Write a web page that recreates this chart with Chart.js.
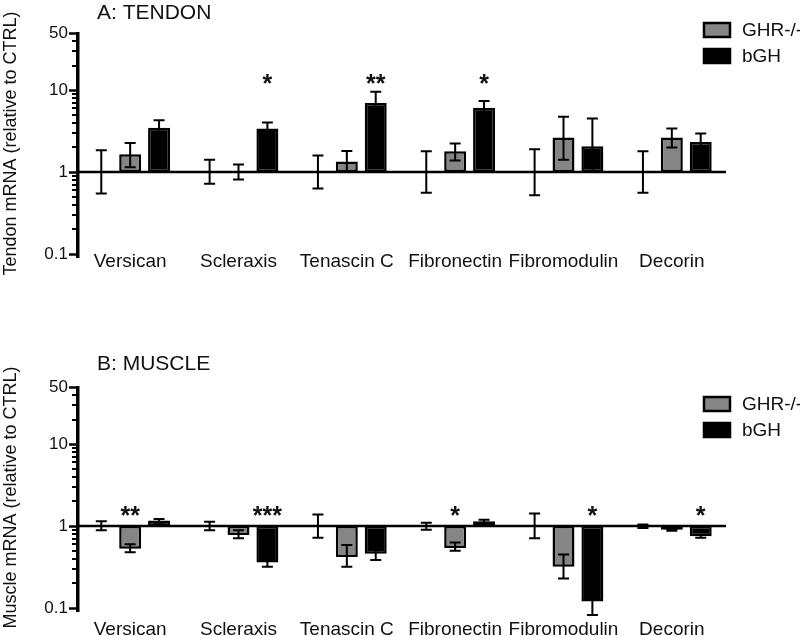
<!DOCTYPE html>
<html lang="en">
<head>
<meta charset="UTF-8">
<title>Tendon / Muscle mRNA</title>
<script src="https://cdn.jsdelivr.net/npm/chart.js"></script>
<style>
  body { margin: 0; background: #fff; }
  .painel { position: absolute; left: 0; width: 800px; }
</style>
</head>
<body>
<div class="painel" style="top:0;height:300px"><canvas id="chartA"></canvas></div>
<div class="painel" style="top:300px;height:336px"><canvas id="chartB"></canvas></div>

<script>
// ---- dados ----
const categorias = ['Versican', 'Scleraxis', 'Tenascin C', 'Fibronectin', 'Fibromodulin', 'Decorin'];
const yTicks = [0.1, 1, 10, 50];
const yMinorTicks = [0.2, 0.3, 0.4, 0.5, 0.6, 0.7, 0.8, 0.9, 2, 3, 4, 5, 6, 7, 8, 9, 20, 30, 40];

// A: tendon
const ctrlA    = [1, 1, 1, 1, 1, 1];
const ctrlLoA  = [0.55, 0.72, 0.63, 0.56, 0.52, 0.56];
const ctrlHiA  = [1.85, 1.42, 1.6, 1.8, 1.9, 1.8];
const ghrA     = [1.65, 0.98, 1.35, 1.8, 2.64, 2.64];
const ghrLoA   = [1.15, 0.81, 1.0, 1.39, 1.42, 2.0];
const ghrHiA   = [2.27, 1.24, 1.81, 2.23, 4.73, 3.41];
const bghA     = [3.47, 3.41, 7.0, 6.1, 2.07, 2.33];
const bghLoA   = [2.8, 2.9, 5.1, 5.0, 1.0, 1.85];
const bghHiA   = [4.3, 4.04, 9.6, 7.4, 4.52, 2.96];
const sigGhrA  = ['', '', '', '', '', ''];
const sigBghA  = ['', '*', '**', '*', '', ''];

// B: muscle
const ctrlB    = [1, 1, 1, 1, 1, 1];
const ctrlLoB  = [0.89, 0.89, 0.72, 0.9, 0.71, 0.95];
const ctrlHiB  = [1.15, 1.13, 1.39, 1.1, 1.43, 1.05];
const ghrB     = [0.53, 0.78, 0.42, 0.54, 0.32, 0.9];
const ghrLoB   = [0.48, 0.71, 0.32, 0.5, 0.23, 0.88];
const ghrHiB   = [0.6, 0.89, 0.59, 0.63, 0.45, 0.93];
const bghB     = [1.17, 0.36, 0.46, 1.15, 0.12, 0.75];
const bghLoB   = [1.1, 0.32, 0.385, 1.1, 0.082, 0.72];
const bghHiB   = [1.22, 0.4, 0.54, 1.2, 0.16, 0.78];
const sigGhrB  = ['**', '', '', '*', '', ''];
const sigBghB  = ['', '***', '', '', '*', '*'];

const FONTE = "'Liberation Sans', Arial, sans-serif";
const CINZA = '#858585';

// linha em y=1, barras de erro e asteriscos
const extrasPlugin = {
  id: 'extras',
  afterDatasetsDraw(chart, args, opts) {
    const ctx = chart.ctx;
    const area = chart.chartArea;
    const y = chart.scales.y;
    ctx.save();
    ctx.strokeStyle = '#000';
    ctx.lineWidth = 2.5;
    ctx.beginPath();
    ctx.moveTo(area.left, y.getPixelForValue(1));
    ctx.lineTo(area.right, y.getPixelForValue(1));
    ctx.stroke();

    ctx.lineWidth = 2;
    chart.data.datasets.forEach((ds, i) => {
      const meta = chart.getDatasetMeta(i);
      meta.data.forEach((bar, j) => {
        const yLo = y.getPixelForValue(ds.erroMin[j]);
        const yHi = y.getPixelForValue(ds.erroMax[j]);
        ctx.beginPath();
        ctx.moveTo(bar.x, yLo); ctx.lineTo(bar.x, yHi);
        ctx.moveTo(bar.x - 5.5, yLo); ctx.lineTo(bar.x + 5.5, yLo);
        ctx.moveTo(bar.x - 5.5, yHi); ctx.lineTo(bar.x + 5.5, yHi);
        ctx.stroke();
        if (ds.sig && ds.sig[j]) {
          ctx.fillStyle = '#111';
          ctx.font = 'bold 25px ' + FONTE;
          ctx.textAlign = 'center';
          ctx.textBaseline = 'middle';
          ctx.fillText(ds.sig[j], bar.x, y.getPixelForValue(opts.sigY) + 6);
        }
      });
    });
    ctx.restore();
  },
  // eixo y com ticks menores, legenda e titulo do painel
  afterDraw(chart, args, opts) {
    const ctx = chart.ctx;
    const area = chart.chartArea;
    const y = chart.scales.y;
    const topo = y.getPixelForValue(50);
    const base = y.getPixelForValue(0.1);
    ctx.save();
    ctx.fillStyle = '#000';
    ctx.fillRect(area.left, topo - 1, 3.5, base - topo + 5);
    yMinorTicks.forEach(v => {
      const py = Math.round(y.getPixelForValue(v));
      ctx.fillRect(area.left - 4, py - 1, 5, 2);
    });

    let ly = opts.legendaY;
    ctx.font = '19px ' + FONTE;
    ctx.textAlign = 'left';
    ctx.textBaseline = 'middle';
    chart.data.datasets.forEach(ds => {
      if (!ds.naLegenda) return;
      ctx.fillStyle = ds.backgroundColor;
      ctx.fillRect(704, ly - 7, 26, 14);
      ctx.strokeStyle = '#000';
      ctx.lineWidth = 2.5;
      ctx.strokeRect(704, ly - 7, 26, 14);
      ctx.fillStyle = '#111';
      ctx.fillText(ds.label, 742, ly + 1);
      ly += 26;
    });

    ctx.font = '21px ' + FONTE;
    ctx.fillStyle = '#111';
    ctx.fillText(opts.titulo, 97, opts.tituloY);
    ctx.restore();
  }
};

function criarPainel(id, cfg) {
  const datasets = [
    { label: 'CTRL', data: cfg.ctrl.map(v => [1, v]), erroMin: cfg.ctrlLo, erroMax: cfg.ctrlHi,
      backgroundColor: 'rgba(0,0,0,0)', borderWidth: 0, naLegenda: false },
    { label: 'GHR-/-', data: cfg.ghr.map(v => [1, v]), erroMin: cfg.ghrLo, erroMax: cfg.ghrHi, sig: cfg.sigGhr,
      backgroundColor: CINZA, borderColor: '#000', borderWidth: 2.5, borderSkipped: false, naLegenda: true },
    { label: 'bGH', data: cfg.bgh.map(v => [1, v]), erroMin: cfg.bghLo, erroMax: cfg.bghHi, sig: cfg.sigBgh,
      backgroundColor: '#000', borderColor: '#000', borderWidth: 2.5, borderSkipped: false, naLegenda: true }
  ];

  return new Chart(document.getElementById(id), {
    type: 'bar',
    data: { labels: categorias, datasets: datasets },
    options: {
      responsive: true,
      maintainAspectRatio: false,
      animation: false,
      categoryPercentage: 0.8,
      barPercentage: 0.76,
      layout: { padding: { top: cfg.topo, bottom: 0, left: 0, right: 74 } },
      plugins: {
        legend: { display: false },
        tooltip: { enabled: false },
        extras: { titulo: cfg.titulo, tituloY: cfg.tituloY, legendaY: cfg.legendaY, sigY: cfg.sigY }
      },
      scales: {
        x: {
          afterFit: s => { s.height = cfg.alturaX; },
          grid: { display: false, drawTicks: false },
          border: { display: false },
          ticks: { font: { family: FONTE, size: 19 }, color: '#111', padding: cfg.padX, maxRotation: 0, autoSkip: false }
        },
        y: {
          type: 'logarithmic',
          min: 0.1,
          max: 50,
          afterBuildTicks: s => { s.ticks = yTicks.map(v => ({ value: v })); },
          afterFit: s => { s.width = 76; },
          ticks: { callback: v => String(v), font: { family: FONTE, size: 17 }, color: '#111', padding: 1, autoSkip: false },
          grid: { drawOnChartArea: false, tickLength: 7, tickWidth: 2.5, tickColor: '#000' },
          border: { display: false },
          title: { display: true, text: cfg.tituloY_eixo, font: { family: FONTE, size: 18 }, color: '#111', padding: { top: 0, bottom: 0 } }
        }
      }
    },
    plugins: [extrasPlugin]
  });
}

criarPainel('chartA', {
  ctrl: ctrlA, ctrlLo: ctrlLoA, ctrlHi: ctrlHiA,
  ghr: ghrA, ghrLo: ghrLoA, ghrHi: ghrHiA, sigGhr: sigGhrA,
  bgh: bghA, bghLo: bghLoA, bghHi: bghHiA, sigBgh: sigBghA,
  titulo: 'A: TENDON', tituloY: 13, legendaY: 30, sigY: 13.7,
  tituloY_eixo: 'Tendon mRNA (relative to CTRL)',
  topo: 33, alturaX: 46, padX: -4
});

criarPainel('chartB', {
  ctrl: ctrlB, ctrlLo: ctrlLoB, ctrlHi: ctrlHiB,
  ghr: ghrB, ghrLo: ghrLoB, ghrHi: ghrHiB, sigGhr: sigGhrB,
  bgh: bghB, bghLo: bghLoB, bghHi: bghHiB, sigBgh: sigBghB,
  titulo: 'B: MUSCLE', tituloY: 64, legendaY: 104, sigY: 1.52,
  tituloY_eixo: 'Muscle mRNA (relative to CTRL)',
  topo: 87, alturaX: 28, padX: 10
});
</script>
</body>
</html>
